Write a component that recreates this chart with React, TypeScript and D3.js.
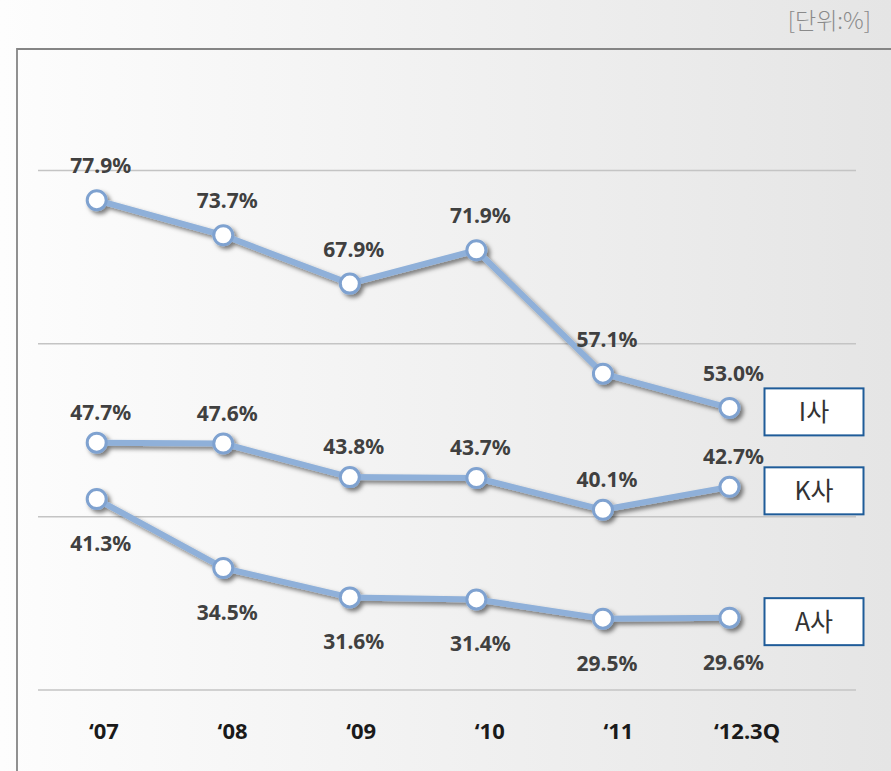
import React from "react";
import * as d3 from "d3";

// categories and values
const years = ["\u201807", "\u201808", "\u201809", "\u201810", "\u201811", "\u201812.3Q"];
const iValues = [77.9, 73.7, 67.9, 71.9, 57.1, 53.0];
const kValues = [47.7, 47.6, 43.8, 43.7, 40.1, 42.7];
const aValues = [41.3, 34.5, 31.6, 31.4, 29.5, 29.6];
const seriesNames = ["I사", "K사", "A사"];
const unitLabel = "[단위:%]";

const W = 891;
const H = 771;

const lineColor = "#8fb0d9";
const markerStroke = "#7fa2d0";

const App = () => {
  const x = d3.scalePoint<string>().domain(years).range([96.7, 729.5]);
  const xLabel = d3.scalePoint<string>().domain(years).range([104, 747]);

  // each company sits in its own band of the picture, so each gets its own scale
  const series = [
    { name: seriesNames[0], values: iValues, y: d3.scaleLinear().domain([50, 80]).range([432.9, 182.7]), labelDy: -27 },
    { name: seriesNames[1], values: kValues, y: d3.scaleLinear().domain([40, 50]).range([510.7, 422.3]), labelDy: -23 },
    { name: seriesNames[2], values: aValues, y: d3.scaleLinear().domain([25, 45]).range([664.3, 461.5]), labelDy: 52 },
  ];

  const grid = d3.scaleLinear().domain([0, 3]).range([690, 170.5]);

  return (
    <svg width={W} height={H} style={{ position: "absolute", left: 0, top: 0, display: "block" }}>
      <defs>
        <linearGradient id="bg" x1="0" x2="1" y1="0" y2="0">
          <stop offset="0%" stopColor="#fdfdfd" />
          <stop offset="100%" stopColor="#e5e5e5" />
        </linearGradient>
        <filter id="shadow" filterUnits="userSpaceOnUse" x="0" y="0" width={W} height={H}>
          <feDropShadow dx="3" dy="3" stdDeviation="2" floodColor="#000" floodOpacity="0.5" />
        </filter>
      </defs>

      <rect x={0} y={0} width={W} height={H} fill="url(#bg)" />

      {/* frame */}
      <path d={`M17,${H} L17,49 L${W},49`} fill="none" stroke="#858585" strokeWidth={1.8} />

      <text
        x={871}
        y={29}
        textAnchor="end"
        fontFamily="'Noto Sans CJK KR', 'Noto Sans'"
        fontWeight={300}
        fontSize={23}
        fill="#8a8a8a"
      >
        {unitLabel}
      </text>

      {/* gridlines */}
      {grid.ticks(3).map((t) => (
        <line key={t} x1={38} x2={856} y1={grid(t)} y2={grid(t)} stroke="#c4c4c4" strokeWidth={1.5} />
      ))}

      {/* x labels */}
      {years.map((d) => (
        <text
          key={d}
          x={xLabel(d)}
          y={739}
          textAnchor="middle"
          fontFamily="'Noto Sans'"
          fontWeight={700}
          fontSize={22}
          fill="#1a1a1a"
        >
          {d}
        </text>
      ))}

      {series.map((s) => {
        const line = d3
          .line<number>()
          .x((_, i) => x(years[i])!)
          .y((v) => s.y(v));
        const lastY = s.y(s.values[s.values.length - 1]) + 4;
        return (
          <g key={s.name}>
            <g filter="url(#shadow)">
              <path d={line(s.values)!} fill="none" stroke={lineColor} strokeWidth={6} strokeLinejoin="round" />
              {s.values.map((v, i) => (
                <circle key={i} cx={x(years[i])} cy={s.y(v)} r={9.5} fill="#fff" stroke={markerStroke} strokeWidth={3} />
              ))}
            </g>
            {s.values.map((v, i) => (
              <text
                key={i}
                x={x(years[i])! + 4}
                y={s.y(v) + s.labelDy}
                textAnchor="middle"
                fontFamily="'Noto Sans'"
                fontWeight={700}
                fontSize={21}
                fill="#404040"
              >
                {v.toFixed(1)}%
              </text>
            ))}
            <rect x={764.5} y={lastY - 23.5} width={99} height={47} fill="#fff" stroke="#1f5c99" strokeWidth={2} />
            <text
              x={814}
              y={lastY + 9}
              textAnchor="middle"
              fontFamily="'Noto Sans CJK KR'"
              fontSize={25}
              fill="#333"
            >
              {s.name}
            </text>
          </g>
        );
      })}
    </svg>
  );
};

export default App;
